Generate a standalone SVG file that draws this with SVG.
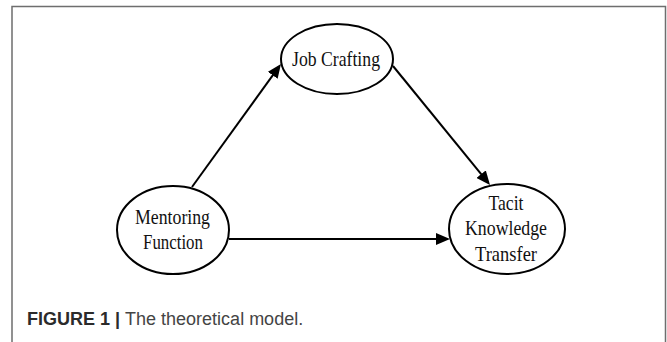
<svg xmlns="http://www.w3.org/2000/svg" width="667" height="342" viewBox="0 0 667 342">
  <defs>
    <marker id="arrow" markerUnits="userSpaceOnUse" markerWidth="14" markerHeight="12" viewBox="0 0 14 12" refX="11" refY="6" orient="auto">
      <path d="M0,0 L14,6 L0,12 z" fill="#000"/>
    </marker>
  </defs>
  <style>
    .node ellipse { fill: #fff; stroke: #000; stroke-width: 2; }
    .node text { font-family: "Liberation Serif", "Times New Roman", serif; font-size: 22px; fill: #111; text-anchor: middle; }
    .edge { stroke: #000; stroke-width: 2; fill: none; marker-end: url(#arrow); }
    .cap { font-family: "Liberation Sans", Arial, sans-serif; font-size: 18px; }
  </style>
  <rect width="667" height="342" fill="#fff"/>
  <path d="M12,342 V6.5 H665.5 V342" fill="none" stroke="#6e6e6e" stroke-width="1.5"/>

  <g id="connectors">
    <line class="edge" x1="192" y1="187" x2="279.2" y2="66.4"/>
    <line class="edge" x1="393" y1="66" x2="488.1" y2="182.7"/>
    <line class="edge" x1="229" y1="239" x2="447" y2="239"/>
  </g>

  <g id="job-crafting" class="node">
    <ellipse cx="337" cy="59" rx="56" ry="35"/>
    <text x="336" y="66" textLength="88" lengthAdjust="spacingAndGlyphs">Job Crafting</text>
  </g>

  <g id="mentoring-function" class="node">
    <ellipse cx="173" cy="230" rx="56" ry="44"/>
    <text x="172.5" y="224" textLength="75" lengthAdjust="spacingAndGlyphs">Mentoring</text>
    <text x="173" y="249" textLength="60" lengthAdjust="spacingAndGlyphs">Function</text>
  </g>

  <g id="tacit-knowledge-transfer" class="node">
    <ellipse cx="507" cy="229" rx="58" ry="45"/>
    <text x="506" y="210" textLength="35" lengthAdjust="spacingAndGlyphs">Tacit</text>
    <text x="506" y="235" textLength="82" lengthAdjust="spacingAndGlyphs">Knowledge</text>
    <text x="506" y="261" textLength="62" lengthAdjust="spacingAndGlyphs">Transfer</text>
  </g>

  <text class="cap" x="27" y="325"><tspan font-weight="bold" fill="#2b2b2b">FIGURE 1 | </tspan><tspan fill="#444">The theoretical model.</tspan></text>
</svg>
